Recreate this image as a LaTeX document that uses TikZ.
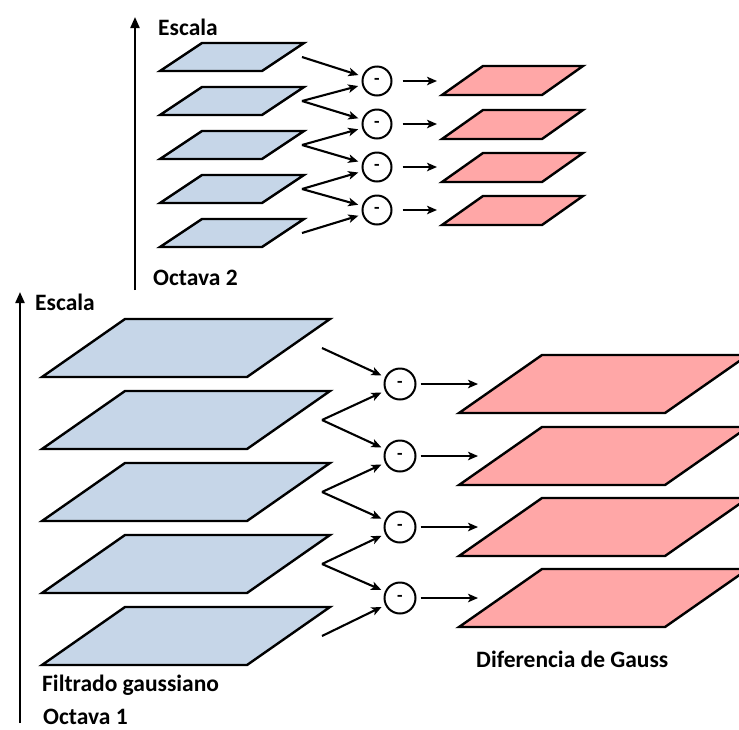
\documentclass[tikz,border=0pt]{standalone}
\usepackage{fontspec}
\setmainfont{Carlito}
\usetikzlibrary{arrows.meta}

\definecolor{planeblue}{RGB}{198,214,232}
\definecolor{planepink}{RGB}{255,167,167}

\tikzset{
  plane/.style={draw=black, line width=2.4pt, line join=miter},
  conn/.style={-{Stealth[length=10pt,width=8.5pt,inset=2.5pt]}, line width=2.1pt},
  diffop/.style={circle, draw, line width=2pt, minimum size=29pt, inner sep=0pt,
    font=\bfseries\fontsize{18}{18}\selectfont},
  lbl/.style={font=\bfseries\fontsize{23.5}{25}\selectfont, anchor=base west, inner sep=0pt},
  axis/.style={-{Triangle[length=11pt,width=9pt]}, line width=2.1pt}
}

% \plane{fill}{bottom-left x}{bottom y}{width}{slant}{height}
\newcommand{\plane}[6]{%
  \path[plane, fill=#1] (#2,#3) -- ++(#4,0) -- ++(#5,-#6) -- ++(-#4,0) -- cycle;}

\begin{document}
\begin{tikzpicture}[x=1pt,y=-1pt]
  \clip (0,0) rectangle (739,729);
  \useasboundingbox (0,0) rectangle (739,729);
  \fill[white] (0,0) rectangle (739,729);

  % ---------------- Octava 2 ----------------
  \coordinate (ax2b) at (135,290);
  \coordinate (ax2t) at (135,17);
  \draw[axis] (ax2b) -- (ax2t);
  \node[lbl] (esc2) at (158,35) {Escala};
  \node[lbl] (oct2) at (153,285) {Octava 2};

  \foreach \i/\yb in {1/71,2/115,3/159,4/203,5/247}{
    \plane{planeblue}{160}{\yb}{102}{42}{28}
    \coordinate (g2s\i) at (302,\yb-14);
  }
  \foreach \i/\yc in {1/81,2/124,3/167,4/210}{
    \node[diffop] (d2\i) at (377,\yc) {-};
    \coordinate (r2t\i) at (437,\yc);
  }
  \foreach \i/\yb in {1/95,2/139,3/182,4/225}{
    \plane{planepink}{442}{\yb}{100}{41}{29}
  }
  \foreach \i [evaluate=\i as \j using int(\i+1)] in {1,2,3,4}{
    \draw[conn, shorten >=4pt] (g2s\i) -- (d2\i);
    \draw[conn, shorten >=4pt] (g2s\j) -- (d2\i);
    \draw[conn, shorten <=10pt] (d2\i) -- (r2t\i);
  }

  % ---------------- Octava 1 ----------------
  \coordinate (ax1b) at (20,723);
  \coordinate (ax1t) at (20,292);
  \draw[axis] (ax1b) -- (ax1t);
  \node[lbl] (esc1) at (35,310) {Escala};
  \node[lbl] (filt) at (42,691) {Filtrado gaussiano};
  \node[lbl] (oct1) at (43,724) {Octava 1};
  \node[lbl] (dog)  at (476,667) {Diferencia de Gauss};

  \foreach \i/\yb in {1/377,2/449,3/521,4/593,5/665}{
    \plane{planeblue}{42}{\yb}{205}{83}{58}
    \coordinate (g1s\i) at (322,\yb-29);
  }
  \foreach \i/\yc in {1/384,2/456,3/527,4/598}{
    \node[diffop, minimum size=31pt] (d1\i) at (400,\yc) {-};
    \coordinate (r1t\i) at (478,\yc);
  }
  \foreach \i/\yb in {1/413,2/485,3/556,4/627}{
    \plane{planepink}{459}{\yb}{206}{83}{58}
  }
  \foreach \i [evaluate=\i as \j using int(\i+1)] in {1,2,3,4}{
    \draw[conn, shorten >=4pt] (g1s\i) -- (d1\i);
    \draw[conn, shorten >=4pt] (g1s\j) -- (d1\i);
    \draw[conn, shorten <=4pt] (d1\i) -- (r1t\i);
  }
\end{tikzpicture}
\end{document}
